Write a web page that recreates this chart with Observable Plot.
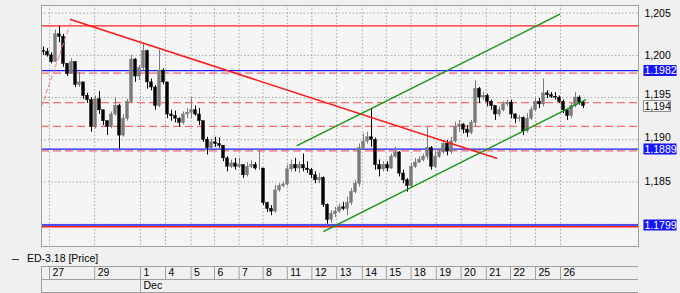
<!DOCTYPE html>
<html><head><meta charset="utf-8">
<script src="https://cdn.jsdelivr.net/npm/d3@7"></script>
<script src="https://cdn.jsdelivr.net/npm/@observablehq/plot@0.6"></script>
<style>
html,body{margin:0;padding:0;background:#f0f0f0;}
body{width:680px;height:293px;overflow:hidden;font-family:"Liberation Sans",Arial,sans-serif;}
#legend{height:13px;padding-top:1px;font-size:10.5px;line-height:14px;color:#000;padding-left:12px;white-space:nowrap;}
#legend .dash{display:inline-block;width:7px;height:1px;background:#333;vertical-align:middle;margin-right:8px;}
svg{display:block;}
</style></head><body>
<div id="chart"></div>
<div id="legend"><span class="dash"></span>ED-3.18 [Price]</div>
<div id="dates"></div>
<script>
// ---- data (x in bar-index units) ----
const highs = [1.2010,1.2008,1.2003,1.2030,1.2034,1.2025,1.1990,1.1996,1.1992,1.1980,
1.1968,1.1955,1.1950,1.1952,1.1957,1.1935,1.1922,1.1933,1.1950,1.1942,
1.1930,1.1948,1.2000,1.1996,1.1988,1.2014,1.2006,1.1972,1.1964,1.2006,
1.1984,1.1968,1.1935,1.1934,1.1926,1.1933,1.1937,1.1950,1.1940,1.1937,
1.1922,1.1903,1.1901,1.1903,1.1902,1.1893,1.1880,1.1876,1.1878,1.1878,
1.1870,1.1873,1.1875,1.1873,1.1889,1.1866,1.1826,1.1822,1.1846,1.1848,
1.1850,1.1870,1.1876,1.1878,1.1874,1.1883,1.1874,1.1866,1.1862,1.1860,
1.1856,1.1824,1.1816,1.1820,1.1824,1.1826,1.1832,1.1842,1.1852,1.1895,
1.1907,1.1909,1.1937,1.1902,1.1876,1.1874,1.1874,1.1883,1.1891,1.1886,
1.1864,1.1854,1.1872,1.1878,1.1880,1.1883,1.1915,1.1892,1.1887,1.1889,
1.1899,1.1899,1.1903,1.1921,1.1923,1.1919,1.1917,1.1923,1.1970,1.1962,
1.1956,1.1954,1.1947,1.1940,1.1939,1.1945,1.1947,1.1947,1.1931,1.1929,
1.1927,1.1931,1.1939,1.1949,1.1949,1.1972,1.1958,1.1956,1.1956,1.1952,
1.1947,1.1935,1.1943,1.1956,1.1952,1.1946];
const lows = [1.2000,1.1998,1.1990,1.1992,1.2015,1.1986,1.1975,1.1978,1.1962,1.1962,
1.1948,1.1943,1.1909,1.1913,1.1930,1.1917,1.1905,1.1913,1.1928,1.1889,
1.1903,1.1922,1.1943,1.1968,1.1970,1.1982,1.1960,1.1958,1.1935,1.1938,
1.1965,1.1925,1.1922,1.1920,1.1915,1.1918,1.1925,1.1925,1.1928,1.1917,
1.1897,1.1882,1.1888,1.1891,1.1890,1.1874,1.1862,1.1866,1.1864,1.1866,
1.1854,1.1856,1.1866,1.1864,1.1864,1.1822,1.1814,1.1810,1.1813,1.1838,
1.1843,1.1845,1.1862,1.1862,1.1860,1.1862,1.1860,1.1854,1.1848,1.1848,
1.1820,1.1800,1.1801,1.1808,1.1813,1.1816,1.1810,1.1822,1.1836,1.1844,
1.1888,1.1895,1.1891,1.1864,1.1856,1.1862,1.1862,1.1865,1.1878,1.1856,
1.1848,1.1838,1.1843,1.1866,1.1872,1.1874,1.1876,1.1864,1.1866,1.1878,
1.1883,1.1881,1.1883,1.1896,1.1909,1.1907,1.1903,1.1906,1.1915,1.1943,
1.1947,1.1939,1.1935,1.1923,1.1927,1.1933,1.1939,1.1925,1.1919,1.1921,
1.1905,1.1908,1.1923,1.1933,1.1937,1.1939,1.1949,1.1949,1.1947,1.1943,
1.1931,1.1923,1.1925,1.1938,1.1941,1.1937];
const closes = [1.2004,1.2000,1.1992,1.2025,1.2022,1.1990,1.1978,1.1992,1.1965,1.1968,
1.1952,1.1947,1.1915,1.1948,1.1935,1.1922,1.1915,1.1930,1.1940,1.1905,
1.1925,1.1945,1.1995,1.1975,1.1985,1.2005,1.1968,1.1962,1.1940,1.1982,
1.1968,1.1930,1.1928,1.1925,1.1920,1.1930,1.1932,1.1935,1.1930,1.1922,
1.1900,1.1890,1.1897,1.1895,1.1893,1.1878,1.1868,1.1872,1.1868,1.1870,
1.1858,1.1868,1.1870,1.1866,1.1866,1.1825,1.1818,1.1815,1.1840,1.1845,
1.1847,1.1865,1.1870,1.1866,1.1870,1.1866,1.1864,1.1858,1.1852,1.1855,
1.1823,1.1805,1.1812,1.1815,1.1820,1.1818,1.1825,1.1838,1.1848,1.1890,
1.1898,1.1903,1.1900,1.1870,1.1865,1.1870,1.1866,1.1880,1.1885,1.1860,
1.1852,1.1845,1.1868,1.1873,1.1876,1.1880,1.1890,1.1868,1.1880,1.1885,
1.1895,1.1886,1.1898,1.1915,1.1918,1.1912,1.1908,1.1920,1.1960,1.1950,
1.1952,1.1945,1.1940,1.1930,1.1935,1.1942,1.1944,1.1930,1.1925,1.1926,
1.1910,1.1925,1.1935,1.1945,1.1942,1.1955,1.1953,1.1951,1.1950,1.1945,
1.1935,1.1928,1.1940,1.1950,1.1944,1.1940];
const firstOpen = 1.2005;

const dayLabels = ["27","29","1","4","5","6","7","8","11","12","13","14","15","18","19","20","21","22","25","26"];
const dayStarts = [2.0,13.3,24.75,31.0,37.4,43.25,49.4,55.4,61.45,67.6,73.8,80.2,86.2,92.4,98.7,104.9,111.2,117.25,123.5,129.75];
const monthLabel = "Dec";
const monthStart = 24.75;
const xDomain = [0, 149.25];
const yDomain = [1.17736, 1.20591];
const yGrid = [1.180,1.185,1.190,1.195,1.200,1.205];
const yTickLabels = [1.185,1.190,1.195,1.200,1.205]; // 1,180 is hidden behind the 1.1799 tag
const yTickNudge = [0, -2, -3, 0, 0]; // labels partly tucked above the tags

const redSolidLevels = [1.2035, 1.1797];
const blueLevels = [1.1982, 1.1889, 1.1799];
const blueTagText = ["1.1982", "1.1889", "1.1799"];
const redDashedLevels = [1.1979, 1.1944, 1.1916, 1.1887];

const redTrendX = [7.25, 113.75], redTrendY = [1.20425, 1.18782];
const pinkTrendX = [0, 7.6], pinkTrendY = [1.19395, 1.2043];
const greenUpperX = [63.9, 129.5], greenUpperY = [1.18932, 1.20485];
const greenLowerX = [70.6, 136.0], greenLowerY = [1.17914, 1.19474];

// ---- build ----
const bars = closes.map((c, i) => {
  const o = i === 0 ? firstOpen : closes[i - 1];
  return {i, open: o, close: c, high: Math.max(highs[i], o, c), low: Math.min(lows[i], o, c), up: c >= o};
});
const seg = (xs, ys) => xs.map((x, k) => ({x, y: ys[k]}));
const lastClose = closes[closes.length - 1];
const commaFmt = d => d3.format(".3f")(d).replace(".", ",");
const blueTags = blueLevels.map((v, k) => ({v, t: blueTagText[k]}));
const lastTag = [{v: lastClose, t: commaFmt(lastClose)}];
const tickRows = yTickLabels.map((v, k) => ({v, t: commaFmt(v), nudge: yTickNudge[k]}));

const FONT = "'Liberation Sans', Arial, sans-serif";
const boxSymbol = (w, h) => ({draw(ctx) { ctx.rect(-w / 2, -h / 2, w, h); }});

const tickMarks = [...new Set(yTickNudge)].map(n =>
  Plot.text(tickRows.filter(d => d.nudge === n), {y: "v", text: "t", frameAnchor: "right", dx: 6, dy: n, textAnchor: "start", fill: "#000", fontSize: 10.5}));

const marks = [
  Plot.frame({fill: "#f5f5f5"}),
  Plot.ruleY(yGrid, {stroke: "#a8a8a8", strokeDasharray: "1.5,2"}),
  Plot.ruleX(dayStarts, {stroke: "#a8a8a8", strokeDasharray: "1.5,2"}),
  Plot.ruleY(redDashedLevels, {stroke: "#ff6b6b", strokeWidth: 1.3, strokeDasharray: "8,4"}),
  Plot.ruleY(redSolidLevels, {stroke: "#ff2020", strokeWidth: 1.4}),
  Plot.ruleY(blueLevels, {stroke: "#1a1aff", strokeWidth: 1.4}),
  Plot.ruleX(bars, {x: d => d.i + 0.5, y1: "low", y2: "high", stroke: d => d.up ? "#7a7a7a" : "#000", strokeWidth: 1}),
  Plot.rect(bars, {x1: d => d.i + 0.15, x2: d => d.i + 0.85, y1: "open", y2: "close",
    fill: d => d.up ? "#7a7a7a" : "#000", stroke: d => d.up ? "#7a7a7a" : "#000", strokeWidth: 0.5}),
  Plot.line(seg(pinkTrendX, pinkTrendY), {x: "x", y: "y", stroke: "#ff8080", strokeWidth: 1, strokeDasharray: "4,3"}),
  Plot.line(seg(redTrendX, redTrendY), {x: "x", y: "y", stroke: "#ff1a1a", strokeWidth: 1.5}),
  Plot.line(seg(greenUpperX, greenUpperY), {x: "x", y: "y", stroke: "#169216", strokeWidth: 1.4}),
  Plot.line(seg(greenLowerX, greenLowerY), {x: "x", y: "y", stroke: "#169216", strokeWidth: 1.4}),
  Plot.frame({stroke: "#a0a0a0"}),
  ...tickMarks,
  Plot.dot(blueTags, {y: "v", frameAnchor: "right", dx: 21.5, symbol: boxSymbol(33, 11), fill: "#1414ff", stroke: "none"}),
  Plot.text(blueTags, {y: "v", text: "t", frameAnchor: "right", dx: 6, dy: 0.5, textAnchor: "start", fill: "#fff", fontSize: 10.5}),
  Plot.dot(lastTag, {y: "v", frameAnchor: "right", dx: 18.5, symbol: boxSymbol(27, 11), fill: "#fafafa", stroke: "#8a8a8a", strokeWidth: 1}),
  Plot.text(lastTag, {y: "v", text: "t", frameAnchor: "right", dx: 6, dy: 0.5, textAnchor: "start", fill: "#000", fontSize: 10.5})
];

const chart = Plot.plot({
  width: 680, height: 250,
  marginLeft: 41, marginRight: 42, marginTop: 5, marginBottom: 4,
  style: {background: "transparent", fontFamily: FONT, fontSize: "10.5px", color: "#000", overflow: "visible"},
  x: {domain: xDomain, axis: null},
  y: {domain: yDomain, axis: null},
  marks
});
document.getElementById("chart").appendChild(chart);

const dayRows = dayLabels.map((t, k) => ({t, x: dayStarts[k], y: 1.5}));
const dates = Plot.plot({
  width: 680, height: 29,
  marginLeft: 41, marginRight: 42, marginTop: 2, marginBottom: 1,
  style: {background: "transparent", fontFamily: FONT, fontSize: "10.5px", color: "#000"},
  x: {domain: xDomain, axis: null},
  y: {domain: [0, 2], axis: null},
  marks: [
    Plot.ruleY([0, 1, 2], {stroke: "#a0a0a0"}),
    Plot.ruleX(dayStarts, {y1: 1, y2: 2, stroke: "#a0a0a0"}),
    Plot.ruleX([xDomain[0]], {y1: 0, y2: 2, stroke: "#a0a0a0"}),
    Plot.ruleX([monthStart], {y1: 0, y2: 1, stroke: "#a0a0a0"}),
    Plot.text(dayRows, {x: "x", y: "y", text: "t", textAnchor: "start", dx: 3, fill: "#000"}),
    Plot.text([{t: monthLabel, x: monthStart, y: 0.5}], {x: "x", y: "y", text: "t", textAnchor: "start", dx: 3, fill: "#000"})
  ]
});
document.getElementById("dates").appendChild(dates);
</script>
</body></html>
